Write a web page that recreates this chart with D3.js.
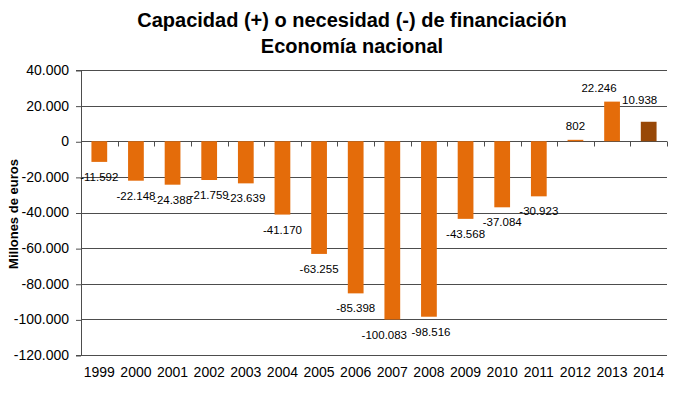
<!DOCTYPE html>
<html>
<head>
<meta charset="utf-8">
<script src="https://cdn.jsdelivr.net/npm/d3@7"></script>
<style>
  body { margin: 0; background: #fff; }
  svg { display: block; font-family: "Liberation Sans", Arial, sans-serif; }
</style>
</head>
<body>
<svg id="chart"></svg>
<script>
// datos: capacidad (+) o necesidad (-) de financiación, millones de euros
var years = ["1999","2000","2001","2002","2003","2004","2005","2006","2007","2008","2009","2010","2011","2012","2013","2014"];
var values = [-11592,-22148,-24388,-21759,-23639,-41170,-63255,-85398,-100083,-98516,-43568,-37084,-30923,802,22246,10938];
var yTicks = [40000,20000,0,-20000,-40000,-60000,-80000,-100000,-120000];
var titleLines = ["Capacidad (+) o necesidad (-) de financiación", "Economía nacional"];
var yTitle = "Millones  de euros";

var width = 680, height = 394;
var margin = {top: 70, right: 13, bottom: 39, left: 81};
var innerW = width - margin.left - margin.right;
var innerH = height - margin.top - margin.bottom;

// pequeños desplazamientos de etiquetas (como en el original)
var nudge = { "2007": [-8, 0], "2008": [2, 0], "2013": [-13, 0], "2014": [-9, -8] };

var fmt = function(v){
    var s = Math.abs(v).toString().replace(/\B(?=(\d{3})+(?!\d))/g, ".");
    return (v < 0 ? "-" : "") + s;
};

var svg = d3.select("#chart").attr("width", width).attr("height", height);

// titulo
svg.selectAll("text.title")
    .data(titleLines)
    .enter()
    .append("text")
    .attr("class", "title")
    .attr("x", 352)
    .attr("y", function(d, i){ return 27 + i * 26; })
    .attr("text-anchor", "middle")
    .style("font-size", "20px")
    .style("font-weight", "bold")
    .text(function(d){ return d; });

var chart = svg.append("g")
    .attr("transform", `translate(${margin.left}, ${margin.top})`);

var pad = 0.57;
var x = d3.scaleBand().domain(years).range([0, innerW]).paddingInner(pad).paddingOuter(pad / 2);
var y = d3.scaleLinear().domain([-120000, 40000]).range([innerH, 0]);

// lineas de cuadricula
chart.selectAll("line.grid")
    .data(yTicks)
    .enter()
    .append("line")
    .attr("class", "grid")
    .attr("x1", 0).attr("x2", innerW)
    .attr("y1", function(d){ return Math.round(y(d)) + 0.5; })
    .attr("y2", function(d){ return Math.round(y(d)) + 0.5; })
    .attr("stroke", "#4d4d4d")
    .attr("stroke-width", 1);

// eje Y
var yAxis = chart.append("g")
    .call(d3.axisLeft(y).tickValues(yTicks).tickSize(5).tickFormat(fmt));
yAxis.select(".domain").attr("stroke", "#4d4d4d");
yAxis.selectAll(".tick line").attr("stroke", "#4d4d4d")
    .attr("transform", "translate(0,0.5)");
yAxis.selectAll(".tick text")
    .attr("x", -12)
    .style("font-size", "14px")
    .style("fill", "#000");

// barras
chart.selectAll("rect.bar")
    .data(values)
    .enter()
    .append("rect")
    .attr("class", "bar")
    .attr("x", function(d, i){ return x(years[i]); })
    .attr("width", x.bandwidth())
    .attr("y", function(d){ return y(Math.max(0, d)); })
    .attr("height", function(d){ return Math.abs(y(d) - y(0)); })
    .attr("fill", function(d, i){ return i == years.length - 1 ? "#984807" : "#E46C0A"; });

// eje en el cero con marcas entre categorias
var y0 = Math.round(y(0)) + 0.5;
var bounds = years.map(function(d){ return x(d) - x.step() * pad / 2; }).concat([innerW]);
chart.selectAll("line.zt")
    .data(bounds)
    .enter()
    .append("line")
    .attr("class", "zt")
    .attr("x1", function(d){ return Math.round(d) + 0.5; })
    .attr("x2", function(d){ return Math.round(d) + 0.5; })
    .attr("y1", y0).attr("y2", y0 + 5)
    .attr("stroke", "#4d4d4d");

// etiquetas de datos
chart.selectAll("text.lbl")
    .data(values)
    .enter()
    .append("text")
    .attr("class", "lbl")
    .attr("x", function(d, i){
        var n = nudge[years[i]] || [0, 0];
        return x(years[i]) + x.bandwidth() / 2 + n[0];
    })
    .attr("y", function(d, i){
        var n = nudge[years[i]] || [0, 0];
        return (d < 0 ? y(d) + 19 : y(d) - 10) + n[1];
    })
    .attr("text-anchor", "middle")
    .style("font-size", "11.5px")
    .text(function(d){ return fmt(d); });

// etiquetas eje X
chart.selectAll("text.yr")
    .data(years)
    .enter()
    .append("text")
    .attr("class", "yr")
    .attr("x", function(d){ return x(d) + x.bandwidth() / 2; })
    .attr("y", innerH + 22)
    .attr("text-anchor", "middle")
    .style("font-size", "14px")
    .text(function(d){ return d; });

// titulo eje Y
svg.append("text")
    .attr("transform", "translate(18, 214) rotate(-90)")
    .attr("text-anchor", "middle")
    .style("font-size", "13px")
    .style("font-weight", "bold")
    .text(yTitle);
</script>
</body>
</html>
